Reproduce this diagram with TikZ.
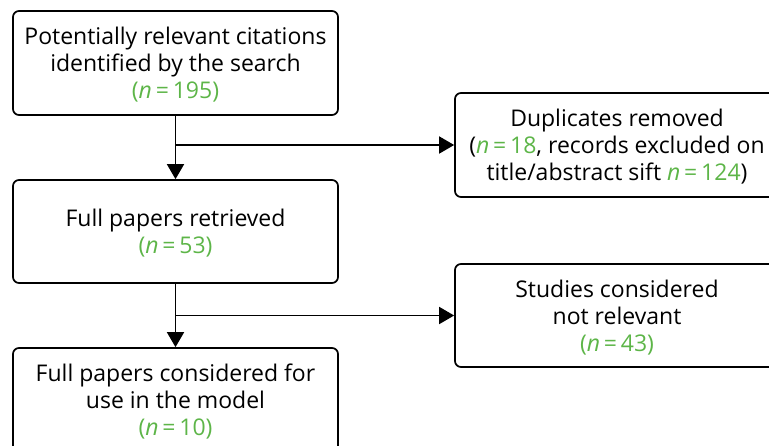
\documentclass[tikz,border=0pt]{standalone}
\usepackage{fontspec}
\setmainfont{Open Sans}
\usetikzlibrary{arrows.meta}
\definecolor{grn}{HTML}{5DB548}
\newcommand{\nn}[1]{{\color{grn}\textit{n}\,=\,#1}}
\begin{document}
\begin{tikzpicture}[x=1pt,y=-1pt,
  boxnode/.style={draw=black, line width=1.7pt, rounded corners=6pt, align=center,
    font=\fontsize{23}{27}\selectfont, inner sep=0pt, text depth=0pt},
  arr/.style={line width=1.7pt, -{Triangle[length=15pt,width=17pt]}}]
\clip (0,0) rectangle (769,445);
\node[boxnode, minimum width=325pt, minimum height=104pt] (b1) at (175.5,63)
  {Potentially relevant citations\\identified by the search\\{\color{grn}(}\nn{195}{\color{grn})}};
\node[boxnode, minimum width=325pt, minimum height=103pt] (b2) at (175.5,231.5)
  {Full papers retrieved\\{\color{grn}(}\nn{53}{\color{grn})}};
\node[boxnode, minimum width=325pt, minimum height=104pt] (b3) at (175.5,400)
  {Full papers considered for\\use in the model\\{\color{grn}(}\nn{10}{\color{grn})}};
\node[boxnode, minimum width=324pt, minimum height=104pt] (r1) at (617,145)
  {Duplicates removed\\(\nn{18}, records excluded on\\title/abstract sift \nn{124})};
\node[boxnode, minimum width=324pt, minimum height=103pt] (r2) at (617,315.5)
  {Studies considered\\not relevant\\{\color{grn}(}\nn{43}{\color{grn})}};
\draw[arr] (b1.south) -- (b2.north);
\draw[arr] (b1.south |- r1.west) -- (r1.west);
\draw[arr] (b2.south) -- (b3.north);
\draw[arr] (b2.south |- r2.west) -- (r2.west);
\end{tikzpicture}
\end{document}
